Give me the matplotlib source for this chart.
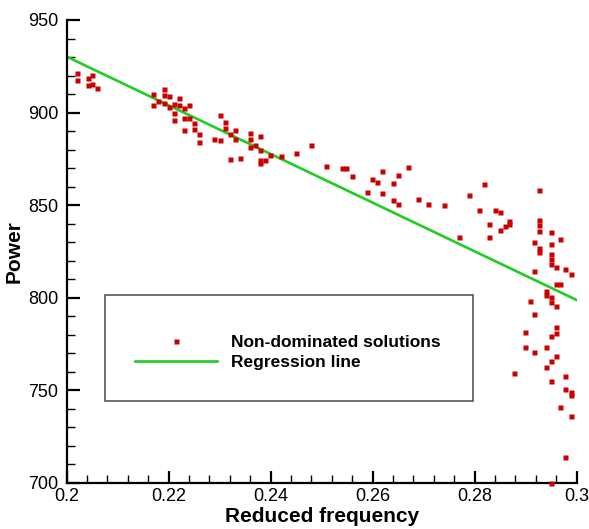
import matplotlib
matplotlib.use('Agg')
import matplotlib.pyplot as plt
from matplotlib.patches import Rectangle
from matplotlib.ticker import MultipleLocator

plt.rcParams['font.family'] = ['Liberation Sans', 'DejaVu Sans']

# non-dominated solutions
freq = [0.2021, 0.2021, 0.2041, 0.2041, 0.2050, 0.2050, 0.2060,
        0.2170, 0.2170, 0.2180, 0.2191, 0.2191, 0.2191, 0.2201, 0.2201,
        0.2211, 0.2211, 0.2211, 0.2221, 0.2221, 0.2231, 0.2231, 0.2231,
        0.2240, 0.2240, 0.2250, 0.2250, 0.2260, 0.2260, 0.2289, 0.2301,
        0.2301, 0.2311, 0.2311, 0.2321, 0.2330, 0.2330, 0.2321, 0.2340,
        0.2360, 0.2360, 0.2360, 0.2370, 0.2379, 0.2379, 0.2379, 0.2379,
        0.2389, 0.2399, 0.2420, 0.2450, 0.2479, 0.2508, 0.2540, 0.2548,
        0.2559, 0.2589, 0.2598, 0.2608, 0.2618, 0.2618, 0.2640, 0.2640,
        0.2649, 0.2649, 0.2669, 0.2688, 0.2708, 0.2739, 0.2769, 0.2788,
        0.2808, 0.2818, 0.2829, 0.2829, 0.2839, 0.2849, 0.2849, 0.2859,
        0.2868, 0.2868,
        0.2927, 0.2927, 0.2927, 0.2927, 0.2949, 0.2968, 0.2917, 0.2927,
        0.2927, 0.2949, 0.2949, 0.2949, 0.2949, 0.2959, 0.2978, 0.2988,
        0.2917, 0.2959, 0.2968, 0.2939, 0.2939, 0.2949, 0.2949, 0.2959,
        0.2908, 0.2917, 0.2959, 0.2959, 0.2949, 0.2898, 0.2898, 0.2917,
        0.2939, 0.2959, 0.2949, 0.2939, 0.2878, 0.2949, 0.2978, 0.2978,
        0.2988, 0.2988, 0.2968, 0.2988, 0.2978, 0.2949]
power = [921.2, 917.6, 918.5, 914.9, 920.3, 915.4, 913.1,
         909.9, 904.1, 906.2, 912.6, 909.5, 905.3, 908.9, 903.2,
         904.5, 899.6, 896.0, 907.7, 904.1, 902.3, 896.9, 890.6,
         904.1, 896.9, 894.5, 891.3, 888.4, 883.9, 885.5, 898.5,
         885.0, 894.7, 891.5, 888.4, 890.4, 885.5, 874.7, 875.3,
         888.8, 885.5, 881.2, 882.5, 887.2, 879.6, 874.2, 872.6,
         874.2, 876.9, 876.4, 878.0, 882.3, 871.0, 869.9, 869.9,
         865.6, 856.9, 863.9, 862.3, 868.3, 856.4, 861.8, 852.6,
         866.1, 850.6, 870.4, 853.1, 850.4, 849.9, 832.6, 855.3,
         847.2, 861.2, 839.6, 832.6, 847.2, 846.1, 836.4, 838.5,
         841.6, 839.6,
         858.0, 841.8, 839.5, 835.8, 835.3, 831.5, 829.9, 826.7,
         824.5, 828.8, 823.4, 820.7, 818.0, 816.4, 815.3, 812.6,
         814.2, 807.2, 807.2, 803.4, 801.2, 800.2, 797.5, 795.3,
         798.0, 791.0, 784.0, 780.7, 779.1, 781.3, 773.2, 770.5,
         773.2, 768.3, 765.6, 762.4, 759.1, 754.8, 757.5, 750.5,
         748.9, 747.2, 740.8, 735.9, 713.8, 699.7]

# regression line end points
reg_x = [0.2, 0.3]
reg_y = [930.2, 798.7]

fig = plt.figure(figsize=(5.89, 5.29), dpi=100)
ax = fig.add_axes([0.1132, 0.0875, 0.8659, 0.8747])

ax.plot(reg_x, reg_y, color='#22cc22', lw=1.9, label='Regression line', zorder=2)
ax.plot(freq, power, ls='none', marker='s', ms=3.6, mec='none', mfc='#cc0000',
        label='Non-dominated solutions', zorder=3, clip_on=False)

ax.set_xlim(0.2, 0.3)
ax.set_ylim(700, 950)
ax.xaxis.set_major_locator(MultipleLocator(0.02))
ax.xaxis.set_minor_locator(MultipleLocator(0.004))
ax.yaxis.set_major_locator(MultipleLocator(50))
ax.yaxis.set_minor_locator(MultipleLocator(10))
ax.set_xticks([0.2, 0.22, 0.24, 0.26, 0.28, 0.3])
ax.set_xticklabels(['0.2', '0.22', '0.24', '0.26', '0.28', '0.3'])

for s in ['top', 'right']:
    ax.spines[s].set_visible(False)
for s in ['left', 'bottom']:
    ax.spines[s].set_linewidth(1.6)

ax.tick_params(which='major', direction='in', length=9, width=1.6, labelsize=13, pad=4)
ax.tick_params(which='minor', direction='in', length=5.5, width=1.0)
ax.tick_params(axis='y', which='major', pad=6)

ax.set_xlabel('Reduced frequency', fontsize=15, fontweight='bold', labelpad=1)
ax.set_ylabel('Power', fontsize=15, fontweight='bold', labelpad=3)

# legend box
ax.add_patch(Rectangle((0.0745, 0.1766), 0.7222, 0.2297, transform=ax.transAxes,
                       fill=True, fc='white', ec='#555555', lw=1.2, zorder=4))
h, l = ax.get_legend_handles_labels()
leg = ax.legend(h[::-1], l[::-1], loc='center left', bbox_to_anchor=(0.1339, 0.281),
                frameon=False, numpoints=1, handlelength=4.75, handletextpad=0.8,
                labelspacing=0.28, borderpad=0, borderaxespad=0,
                prop={'size': 12.5, 'weight': 'bold'})
leg.set_zorder(5)

fig.savefig('out.png', dpi=100)
